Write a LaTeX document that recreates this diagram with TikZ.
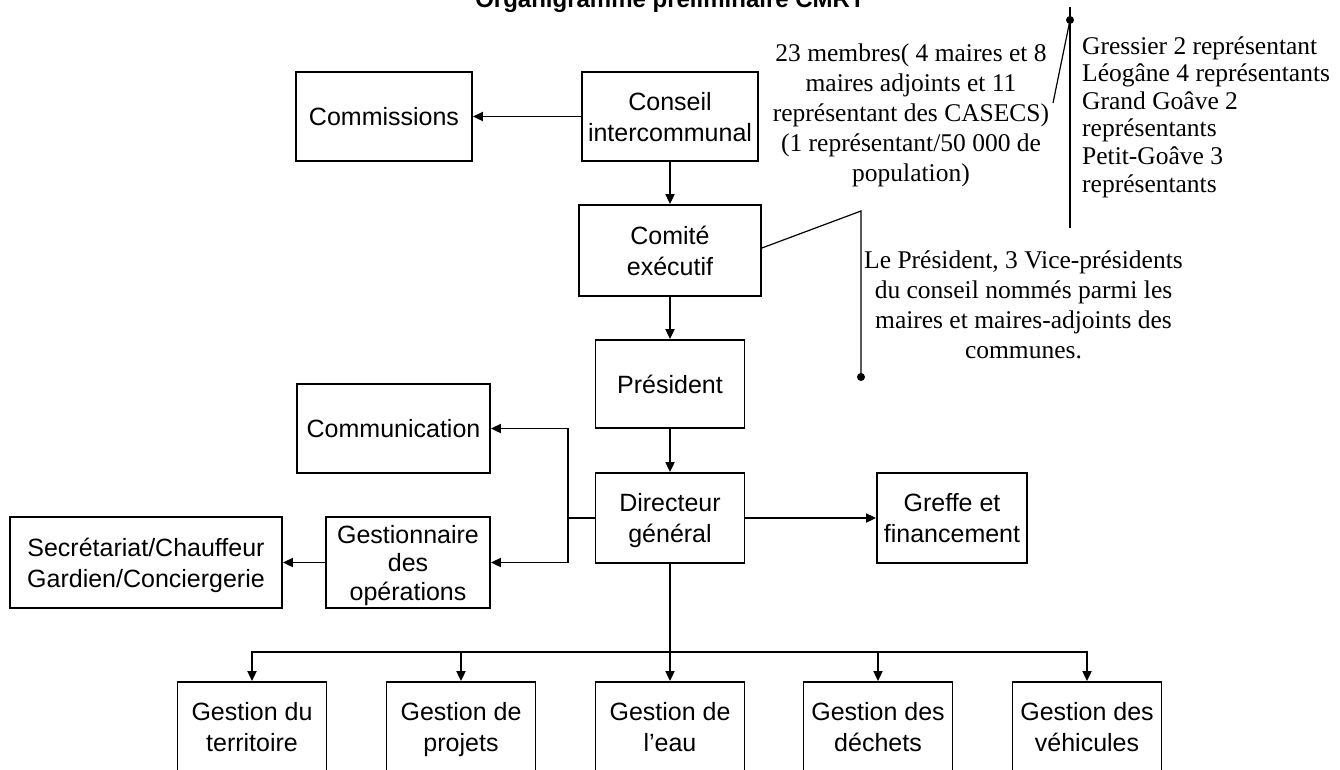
\documentclass[tikz,border=0pt]{standalone}
\usepackage{fontspec}
\setmainfont{Liberation Serif}
\setsansfont{Liberation Sans}
\usetikzlibrary{arrows.meta}
\def\orgstrut{\vrule width0pt height24pt depth6pt}
\def\orgbox#1#2#3#4#5{\node [org,minimum width=#3pt,minimum height=#4pt] (#1) at (#2) {\orgstrut#5\orgstrut}}
\tikzstyle{org}=[draw,line width=1.8pt,align=center,inner sep=0pt,font=\sffamily\fontsize{25}{28.5}\selectfont]
\tikzstyle{note}=[align=center,inner sep=0pt,font=\fontsize{25.5}{30}\selectfont]
\tikzstyle{link}=[line width=1.8pt,-{Triangle[length=10pt,width=9pt]}]
\tikzstyle{wire}=[line width=1.8pt]
\tikzstyle{callout}=[line width=1.2pt]

\begin{document}
\begin{tikzpicture}[x=1pt,y=-1pt]
    \useasboundingbox (0,0) rectangle (1340,769);
    \node[anchor=base,inner sep=0pt,font=\sffamily\bfseries\fontsize{24}{28}\selectfont] (titre) at (670,7) {Organigramme préliminaire CMRT};
    % haut de l'organigramme
    \orgbox{comm}{384,116.5}{176}{89}{Commissions};
    \orgbox{conseil}{670,116.5}{176}{89}{Conseil\\intercommunal};
    \orgbox{comite}{670,250.5}{182}{91}{Comité\\exécutif};
    \orgbox{pres}{670,384}{149}{88}{Président};
    \orgbox{dg}{670,518}{149}{90}{Directeur\\général};
    \orgbox{greffe}{952,518}{150}{90}{Greffe et\\financement};
    % services
    \orgbox{communic}{393.5,428.5}{193}{89}{Communication};
    \orgbox{gestop}{408,562.5}{164}{91}{Gestionnaire\\des\\opérations};
    \orgbox{secr}{146,562.5}{272}{91}{Secrétariat/Chauffeur\\Gardien/Conciergerie};
    \orgbox{g1}{252,727}{149}{90}{Gestion du\\territoire};
    \orgbox{g2}{461,727}{149}{90}{Gestion de\\projets};
    \orgbox{g3}{670,727}{149}{90}{Gestion de\\l’eau};
    \orgbox{g4}{878,727}{149}{90}{Gestion des\\déchets};
    \orgbox{g5}{1087,727}{149}{90}{Gestion des\\véhicules};
    % notes
    \node[note] (membres) at (911,115) {23 membres( 4 maires et 8\\maires adjoints et 11\\représentant des CASECS)\\(1 représentant/50 000 de\\population)};
    \node[note,align=left,anchor=west,font=\fontsize{25.5}{27.6}\selectfont] (repart) at (1082,117) {Gressier 2 représentant\\Léogâne 4 représentants\\Grand Goâve 2\\représentants\\Petit-Goâve 3\\représentants};
    \node[note] (bureau) at (1023.5,305) {Le Président, 3 Vice-présidents\\du conseil nommés parmi les\\maires et maires-adjoints des\\communes.};
    % liaisons
    \draw[link] (conseil) -- (comm);
    \draw[link] (conseil) -- (comite);
    \draw[link] (comite) -- (pres);
    \draw[link] (pres) -- (dg);
    \draw[link] (dg) -- (greffe);
    \coordinate (branche) at (568,518);
    \draw[wire] (dg.west) -- (branche);
    \draw[link] (branche) |- (communic.east);
    \draw[link] (branche) |- (gestop.east);
    \draw[link] (gestop) -- (secr);
    \coordinate (bus) at (670,652);
    \draw[wire] (dg.south) -- (bus);
    \draw[link] (bus) -| (g1.north);
    \draw[link] (bus) -| (g2.north);
    \draw[link] (bus) -- (g3.north);
    \draw[link] (bus) -| (g4.north);
    \draw[link] (bus) -| (g5.north);
    % renvois des notes
    \coordinate (coinB) at (861,211);
    \coordinate (pointB) at (861,377);
    \draw[callout] ([yshift=2.5pt]comite.east) -- (coinB) -- (pointB);
    \fill (pointB) circle (4pt);
    \coordinate (coinA) at (1053,103);
    \coordinate (pointA) at (1070,20);
    \coordinate (hautA) at (1070,7);
    \coordinate (basA) at (1070,228);
    \draw[callout] (coinA) -- (pointA);
    \draw[callout] (hautA) -- (basA);
    \fill (pointA) circle (4pt);
\end{tikzpicture}
\end{document}
